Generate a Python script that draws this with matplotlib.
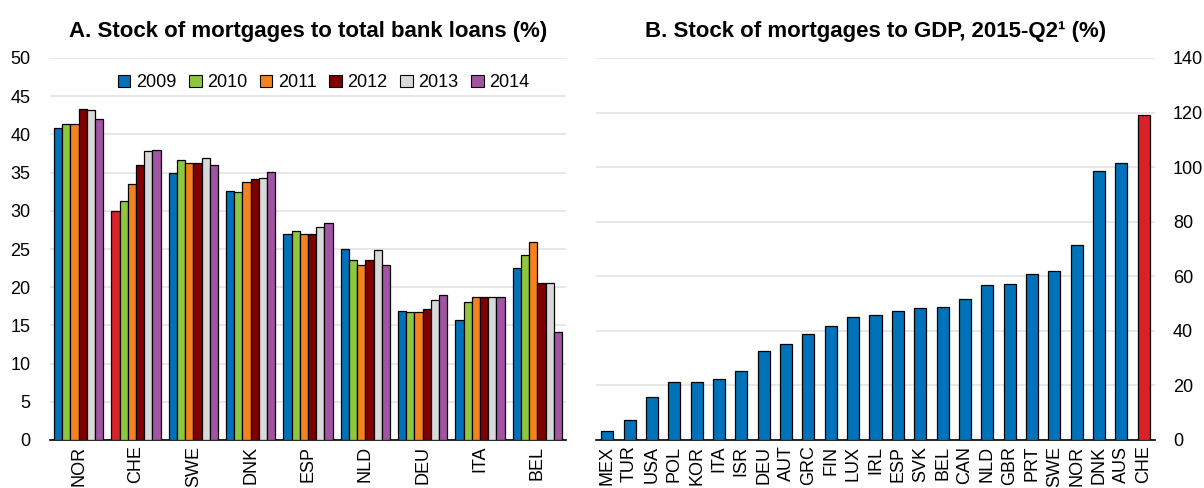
import numpy as np
import matplotlib
matplotlib.use("Agg")
import matplotlib.pyplot as plt
from matplotlib.patches import Patch
from matplotlib import font_manager

names = {f.name for f in font_manager.fontManager.ttflist}
narrow = "Liberation Sans Narrow" if "Liberation Sans Narrow" in names else "Liberation Sans"
plt.rcParams["font.family"] = [narrow, "DejaVu Sans"]

# panel A: mortgages as share of total bank loans
countries_a = ["NOR", "CHE", "SWE", "DNK", "ESP", "NLD", "DEU", "ITA", "BEL"]
years = ["2009", "2010", "2011", "2012", "2013", "2014"]
loans_2009 = [40.9, 30.0, 34.9, 32.6, 26.9, 25.0, 16.9, 15.7, 22.5]
loans_2010 = [41.3, 31.3, 36.6, 32.5, 27.4, 23.6, 16.8, 18.1, 24.2]
loans_2011 = [41.3, 33.5, 36.2, 33.8, 27.0, 22.9, 16.7, 18.7, 25.9]
loans_2012 = [43.3, 36.0, 36.2, 34.1, 27.0, 23.5, 17.1, 18.7, 20.6]
loans_2013 = [43.2, 37.8, 36.9, 34.3, 27.9, 24.9, 18.3, 18.7, 20.5]
loans_2014 = [42.0, 38.0, 36.0, 35.1, 28.4, 22.9, 19.0, 18.7, 14.1]

# panel B: mortgages to GDP, 2015-Q2
countries_b = ["MEX", "TUR", "USA", "POL", "KOR", "ITA", "ISR", "DEU", "AUT",
               "GRC", "FIN", "LUX", "IRL", "ESP", "SVK", "BEL", "CAN", "NLD",
               "GBR", "PRT", "SWE", "NOR", "DNK", "AUS", "CHE"]
gdp_share = [3.2, 7.2, 15.9, 21.1, 21.4, 22.3, 25.4, 32.8, 35.3, 39.0, 41.7,
             45.0, 45.7, 47.2, 48.2, 48.9, 51.8, 56.7, 57.3, 60.7, 62.1, 71.4,
             98.6, 101.6, 119.2]

blue = "#0072bc"
red = "#da2128"
year_colors = [blue, "#8dc63f", "#f58220", "#800000", "#d9d9d9", "#a154a1"]
grid_col = "#e3e3e3"
fs = 13

fig = plt.figure(figsize=(12.04, 4.88), dpi=100)
ax1 = fig.add_axes([50 / 1204, 1 - 440 / 488, 516 / 1204, 382 / 488])
ax2 = fig.add_axes([596 / 1204, 1 - 440 / 488, 559 / 1204, 382 / 488])

series = [loans_2009, loans_2010, loans_2011, loans_2012, loans_2013, loans_2014]
x = np.arange(len(countries_a))
bw = 0.143
for i, vals in enumerate(series):
    cols = [year_colors[i]] * len(vals)
    if i == 0:
        cols[countries_a.index("CHE")] = red
    ax1.bar(x + (i - 2.5) * bw, vals, bw, color=cols, edgecolor="black",
            linewidth=0.9, zorder=3)

ax1.set_xlim(-0.5, len(countries_a) - 0.5)
ax1.set_ylim(0, 50)
ax1.set_yticks(np.arange(0, 51, 5))
ax1.set_xticks(x)
ax1.set_xticklabels(countries_a, rotation=90)

handles = [Patch(facecolor=c, edgecolor="black", linewidth=0.8) for c in year_colors]
ax1.legend(handles, years, ncol=6, loc="center", bbox_to_anchor=(0.53, 0.935),
           frameon=False, fontsize=fs, handlelength=0.7, handleheight=0.7,
           handletextpad=0.3, columnspacing=0.7, borderaxespad=0, borderpad=0)
ax1.set_title("A. Stock of mortgages to total bank loans (%)", fontsize=16,
              fontweight="bold", pad=15)

xb = np.arange(len(countries_b))
cols_b = [red if c == "CHE" else blue for c in countries_b]
ax2.bar(xb, gdp_share, 0.54, color=cols_b, edgecolor="black", linewidth=0.9, zorder=3)
ax2.set_xlim(-0.5, len(countries_b) - 0.5)
ax2.set_ylim(0, 140)
ax2.set_yticks(np.arange(0, 141, 20))
ax2.set_xticks(xb)
ax2.set_xticklabels(countries_b, rotation=90)
ax2.yaxis.tick_right()
ax2.set_title("B. Stock of mortgages to GDP, 2015-Q2\u00b9 (%)", fontsize=16,
              fontweight="bold", pad=15)

for ax in (ax1, ax2):
    for s in ("top", "left", "right"):
        ax.spines[s].set_visible(False)
    ax.spines["bottom"].set_linewidth(1.2)
    ax.grid(axis="y", color=grid_col, linewidth=1.2, zorder=0)
    ax.set_axisbelow(True)
    ax.tick_params(length=0, labelsize=fs, colors="black")
    ax.tick_params(axis="x", pad=4)
ax1.tick_params(axis="y", pad=14)
ax2.tick_params(axis="y", pad=13)

fig.savefig("out.png", dpi=100)
